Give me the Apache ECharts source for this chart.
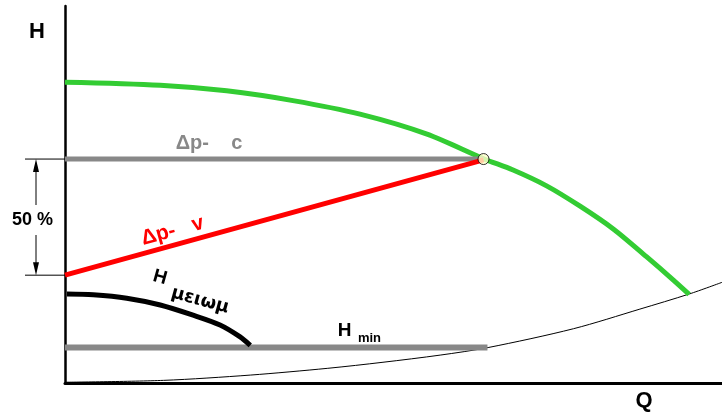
<!DOCTYPE html>
<html>
<head>
<meta charset="utf-8">
<script src="https://cdn.jsdelivr.net/npm/echarts@6/dist/echarts.min.js"></script>
<style>
html,body{margin:0;padding:0;background:#ffffff;}
#chart{width:722px;height:416px;}
</style>
</head>
<body>
<div id="chart"></div>
<script>
// ---- data (Q = flow, H = head; arbitrary 0..100 units) ----
const pumpQ   = [0, 14.5, 24.6, 34.7, 44.9, 55.1, 63.7, 68.2, 73.3, 78.4, 83.5, 88.5, 92.6, 95.0];
const pumpH   = [79.8, 79.0, 77.5, 74.9, 71.3, 66.0, 59.5, 56.5, 52.3, 46.9, 40.8, 33.5, 27.3, 23.5];

const reducedQ = [0.3, 4.3, 9.4, 14.5, 19.5, 23.6, 26.6, 28.2];
const reducedH = [23.6, 23.4, 22.5, 20.7, 18.0, 15.4, 12.3, 10.0];

const systemQ = [0, 15, 28.2, 40, 48.4, 57.1, 64.4, 77.4, 87.5, 95, 100];
const systemH = [0.2, 0.7, 2.1, 3.9, 5.5, 7.4, 9.4, 14.4, 19.6, 23.6, 26.7];

const dpcQ = [0, 63.7];
const dpcH = [59.4, 59.4];

const dpvQ = [0, 63.7];
const dpvH = [28.6, 59.2];

const hminQ = [0, 64.3];
const hminH = [9.4, 9.4];

const dutyQ = [63.7];
const dutyH = [59.4];

const axisLabels = { y: 'H', x: 'Q' };
const curveLabels = { dpc: 'Δp-    c', dpv: 'Δp-   v', hred: 'H', hredSub: 'μειωμ', hmin: 'H', hminSub: 'min', pct: '50 %' };

// ---- helpers ----
const zip = (xs, ys) => xs.map((x, i) => [x, ys[i]]);
const FONT = '"Liberation Sans", Arial, sans-serif';

const chart = echarts.init(document.getElementById('chart'), null, { renderer: 'canvas' });

const lineSeries = (data, color, width, smooth, z) => ({
  type: 'line', data, smooth, showSymbol: false, symbol: 'none', silent: true, z,
  lineStyle: { color, width, cap: 'butt' }, animation: false
});

chart.setOption({
  animation: false,
  backgroundColor: '#ffffff',
  grid: { left: 65, right: 0, top: 6, bottom: 33, containLabel: false },
  xAxis: {
    type: 'value', min: 0, max: 100,
    axisLine: { show: true, onZero: false, lineStyle: { color: '#000', width: 3 } },
    axisTick: { show: false }, axisLabel: { show: false }, splitLine: { show: false }
  },
  yAxis: {
    type: 'value', min: 0, max: 100,
    axisLine: { show: true, onZero: false, lineStyle: { color: '#000', width: 2.5 } },
    axisTick: { show: false }, axisLabel: { show: false }, splitLine: { show: false }
  },
  series: [
    lineSeries(zip(systemQ, systemH), '#000000', 1, 0.3, 1),
    lineSeries(zip(hminQ, hminH), '#888888', 6, false, 2),
    lineSeries(zip(reducedQ, reducedH), '#000000', 5, 0.3, 3),
    lineSeries(zip(pumpQ, pumpH), '#33cc33', 5, 0.3, 3),
    lineSeries(zip(dpcQ, dpcH), '#888888', 5, false, 4),
    lineSeries(zip(dpvQ, dpvH), '#ff0000', 5, false, 4),
    {
      type: 'scatter', data: zip(dutyQ, dutyH), symbol: 'circle', symbolSize: 11, z: 6,
      silent: true, animation: false,
      itemStyle: { color: '#ffffcc', borderColor: '#000000', borderWidth: 1 }
    }
  ]
});

// ---- annotations, anchored through the chart's own scales ----
const px = (q, h) => chart.convertToPixel({ gridIndex: 0 }, [q, h]);
const topPt = px(0, dpcH[0]);
const botPt = px(0, dpvH[0]);
const ax = 36;
const arrowLen = 13, arrowHalf = 3;

const txt = (text, x, y, size, color, rotation, font) => ({
  type: 'text', x, y, rotation: rotation || 0, z: 100,
  style: { text, fill: color, font: 'bold ' + size + 'px ' + (font || FONT), align: 'center', verticalAlign: 'middle' }
});

chart.setOption({
  graphic: [
    // tick lines of the 50 % dimension
    { type: 'line', z: 50, shape: { x1: 25, y1: topPt[1], x2: topPt[0], y2: topPt[1] }, style: { stroke: '#000', lineWidth: 1 } },
    { type: 'line', z: 50, shape: { x1: 25, y1: botPt[1], x2: botPt[0], y2: botPt[1] }, style: { stroke: '#000', lineWidth: 1 } },
    { type: 'line', z: 50, shape: { x1: ax, y1: topPt[1] + 4, x2: ax, y2: botPt[1] - 4 }, style: { stroke: '#000', lineWidth: 1 } },
    { type: 'polygon', z: 51, shape: { points: [[ax, topPt[1]], [ax - arrowHalf, topPt[1] + arrowLen], [ax + arrowHalf, topPt[1] + arrowLen]] }, style: { fill: '#000' } },
    { type: 'polygon', z: 51, shape: { points: [[ax, botPt[1]], [ax - arrowHalf, botPt[1] - arrowLen], [ax + arrowHalf, botPt[1] - arrowLen]] }, style: { fill: '#000' } },
    {
      type: 'text', x: 32.5, y: (topPt[1] + botPt[1]) / 2 + 3, z: 60,
      style: { text: curveLabels.pct, fill: '#000', font: 'bold 18px ' + FONT, align: 'center', verticalAlign: 'middle',
               backgroundColor: '#ffffff', padding: [6, 1, 6, 1] }
    },
    // axis names
    txt(axisLabels.y, 37, 32, 22, '#000'),
    txt(axisLabels.x, 644, 401, 22, '#000'),
    // curve labels
    txt(curveLabels.dpc, 209, 143, 20, '#888888'),
    txt(curveLabels.dpv, 172.5, 231, 21, '#ff0000', 0.268),
    txt(curveLabels.hred, 160, 277.5, 19, '#000', -0.27),
    txt(curveLabels.hredSub, 200, 300.5, 18, '#000', -0.27, '"DejaVu Sans", sans-serif'),
    txt(curveLabels.hmin, 344.5, 330.5, 19, '#000'),
    txt(curveLabels.hminSub, 369.5, 338.5, 13, '#000')
  ]
});
</script>
</body>
</html>
